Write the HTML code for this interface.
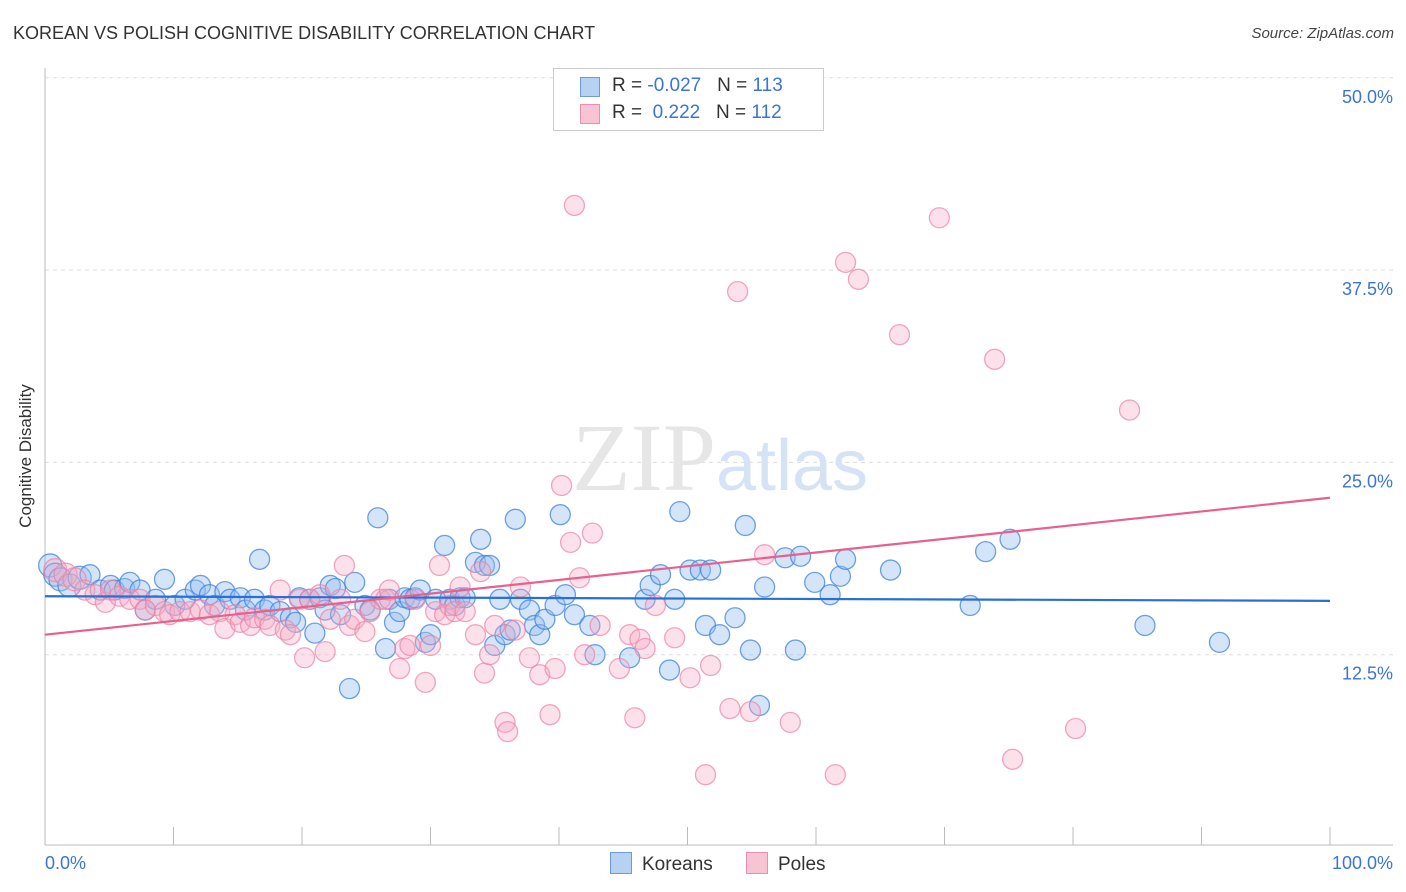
<!DOCTYPE html>
<html><head><meta charset="utf-8"><style>
body{margin:0;background:#fff;font-family:"Liberation Sans",sans-serif}
#w{position:relative;width:1406px;height:892px;overflow:hidden}
</style></head><body><div id="w">
<div style="position:absolute;left:13px;top:23px;font-size:18px;color:#333">KOREAN VS POLISH COGNITIVE DISABILITY CORRELATION CHART</div>
<div style="position:absolute;right:12px;top:25px;font-size:15px;color:#444;font-style:italic">Source: ZipAtlas.com</div>
<svg id="s" width="1406" height="892" style="position:absolute;left:0;top:0"></svg>
</div>
<script>
const yTicks=[12.5,25,37.5,50];
const yTickLabels=["12.5%","25.0%","37.5%","50.0%"];
const korX=[0.4,0.8,1.2,1.9,2.7,3.5,4.3,5.1,5.4,6.2,6.6,7.4,7.8,8.6,9.3,10.1,10.9,11.7,12.1,12.8,13.2,14.0,14.4,15.2,15.6,16.3,16.7,17.1,17.5,18.3,19.1,19.5,19.8,20.6,21.0,21.4,21.8,22.2,22.6,23.0,23.7,24.1,24.9,25.3,25.9,26.5,26.8,27.2,27.6,28.0,28.4,28.8,29.2,29.6,30.0,30.4,31.1,31.5,31.9,32.3,32.7,33.5,33.9,34.2,34.6,35.0,35.4,35.8,36.2,36.6,37.0,37.7,38.1,38.5,38.9,39.7,40.1,40.5,41.2,42.4,42.8,45.5,46.7,47.1,47.9,48.6,49.0,49.4,50.2,51.0,51.4,51.8,52.5,53.7,54.5,54.9,55.6,56.0,57.6,58.4,58.8,59.9,61.1,61.9,62.3,65.8,72.0,73.2,75.1,85.6,91.4];
const korY=[18.3,17.7,17.4,17.0,17.5,17.7,16.7,17.0,16.7,16.8,17.2,16.7,15.4,16.1,17.4,15.7,16.1,16.7,17.0,16.4,15.7,16.6,16.1,16.2,15.4,16.1,18.7,15.4,15.7,15.3,14.9,14.6,16.2,16.1,13.9,16.2,15.4,17.0,16.8,15.1,10.3,17.2,15.7,15.4,21.4,12.9,16.1,14.6,15.3,16.2,16.1,16.2,16.7,13.3,13.8,16.1,19.6,16.1,15.7,16.2,16.2,18.5,20.0,18.3,18.3,13.1,16.1,13.8,14.1,21.3,16.1,15.4,14.4,13.8,14.8,15.7,21.6,16.4,15.1,14.4,12.5,12.3,16.1,17.0,17.7,11.5,16.1,21.8,18.0,18.0,14.4,18.0,13.8,14.9,20.9,12.8,9.2,16.9,18.8,12.8,18.9,17.2,16.4,17.6,18.7,18.0,15.7,19.2,20.0,14.4,13.3];
const polX=[0.8,1.6,2.3,3.1,3.9,4.7,5.1,5.8,6.6,7.4,7.8,8.6,9.3,9.7,10.5,11.3,12.1,12.8,13.6,14.0,14.8,15.2,16.0,16.3,17.1,17.5,18.3,18.7,19.1,19.8,20.2,20.6,21.4,21.8,22.2,23.0,23.3,23.7,24.1,24.9,25.3,26.1,26.5,26.8,27.6,28.0,28.4,28.8,29.6,30.0,30.4,30.7,31.1,31.5,31.9,32.3,32.7,33.5,33.9,34.2,34.6,35.0,35.8,36.0,36.6,37.0,37.7,38.5,39.3,39.7,40.2,40.9,41.2,41.6,42.0,42.6,43.2,44.7,45.5,45.9,46.3,46.7,47.5,49.0,50.2,51.4,51.8,53.3,53.9,54.9,56.0,58.0,61.5,62.3,63.3,66.5,69.6,73.9,75.3,80.2,84.4];
const polY=[18.0,17.7,17.4,16.7,16.4,15.9,16.7,16.3,16.1,16.1,15.4,15.7,15.3,15.1,15.3,15.3,15.4,15.1,15.3,14.2,15.1,14.6,14.4,14.9,14.8,14.4,16.7,14.1,13.8,16.1,12.3,16.1,16.4,12.7,14.8,16.1,18.3,14.4,14.8,14.0,15.3,16.1,16.1,16.7,11.6,12.9,13.1,16.1,10.7,13.1,15.3,18.3,15.1,15.7,15.3,16.9,15.3,13.8,17.9,11.3,12.5,14.4,8.1,7.5,14.1,16.9,12.3,11.2,8.6,11.6,23.5,19.8,41.7,17.5,12.5,20.4,14.4,11.6,13.8,8.4,13.5,12.9,15.7,13.6,11.0,4.7,11.8,9.0,36.1,8.8,19.0,8.1,4.7,38.0,36.9,33.3,40.9,31.7,5.7,7.7,28.4];
const korTrend=[16.3,16.0];
const polTrend=[13.8,22.7];
const NS='http://www.w3.org/2000/svg';
const s=document.getElementById('s');
const X=v=>45+v*12.85, Y=v=>847-v*15.385;
function el(t,a,p){const e=document.createElementNS(NS,t);for(const k in a)e.setAttribute(k,a[k]);(p||s).appendChild(e);return e;}
yTicks.forEach((t,i)=>{
 const g=el('line',{x1:45,x2:1393,y1:Y(t),y2:Y(t),stroke:'#ddd','stroke-dasharray':'4,4'});
 
 
 const l=el('text',{x:1393,y:Y(t)+25,'text-anchor':'end','font-size':18,fill:'#3a74d8','font-family':'Liberation Sans, sans-serif'});
 l.textContent=yTickLabels[i];
 
 
});
el('line',{x1:45,x2:45,y1:68,y2:845,stroke:'#bbb'});
el('line',{x1:45,x2:1393,y1:845,y2:845,stroke:'#bbb'});
for(let i=0;i<=10;i++){el('line',{x1:X(i*10),x2:X(i*10),y1:827,y2:845,stroke:'#bbb'});}
const wm=el('text',{x:720,y:490,'text-anchor':'middle','font-size':96,fill:'#e6e6e6','font-family':'Liberation Serif, serif'});wm.innerHTML='ZIP<tspan fill="#d5e3f5" font-family="Liberation Sans, sans-serif" font-size="72">atlas</tspan>';


korX.forEach((x,i)=>{const c=el('circle',{cx:X(x),cy:Y(korY[i]),r:(x<3?11.5:10),fill:'rgba(150,190,240,0.4)',stroke:'rgba(60,130,220,0.75)','stroke-width':1.3});
 
 });
polX.forEach((x,i)=>{const c=el('circle',{cx:X(x),cy:Y(polY[i]),r:(x<3?11.5:10),fill:'rgba(245,170,195,0.35)',stroke:'rgba(235,130,165,0.7)','stroke-width':1.3});
 
 });
const t1=el('line',{x1:X(0),x2:X(100),y1:Y(korTrend[0]),y2:Y(korTrend[1]),stroke:'#2a6fd6','stroke-width':2.2});


const t2=el('line',{x1:X(0),x2:X(100),y1:Y(polTrend[0]),y2:Y(polTrend[1]),stroke:'#e8608c','stroke-width':2.2});


</script>
<div style="position:absolute;left:-64px;top:446px;width:180px;text-align:center;white-space:nowrap;transform:rotate(-90deg);font-size:17px;color:#333">Cognitive Disability</div>
<div style="position:absolute;left:45px;top:853px;font-size:18px;color:#3a74d8">0.0%</div>
<div style="position:absolute;right:13px;top:853px;font-size:18px;color:#3a74d8">100.0%</div>
<div style="position:absolute;left:553px;top:68px;width:269px;height:61px;border:1px solid #ccc;background:#fff;font-size:19px;color:#333">
 <div style="position:absolute;left:26px;top:8px;width:18px;height:18px;background:#b7d1f3;border:1px solid #6a9be0"></div>
 <div style="position:absolute;left:58px;top:6px">R = <span style="color:#3a74d8">-0.027</span> &nbsp;&nbsp;N = <span style="color:#3a74d8">113</span></div>
 <div style="position:absolute;left:26px;top:35px;width:18px;height:18px;background:#f8c4d4;border:1px solid #eb8fae"></div>
 <div style="position:absolute;left:58px;top:33px">R = &nbsp;<span style="color:#3a74d8">0.222</span> &nbsp;&nbsp;N = <span style="color:#3a74d8">112</span></div>
</div>
<div style="position:absolute;left:610px;top:852px;font-size:19px;color:#333"><span style="display:inline-block;width:20px;height:20px;background:#b7d1f3;border:1px solid #6a9be0;vertical-align:-4px;margin-right:10px"></span>Koreans</div>
<div style="position:absolute;left:746px;top:852px;font-size:19px;color:#333"><span style="display:inline-block;width:20px;height:20px;background:#f8c4d4;border:1px solid #eb8fae;vertical-align:-4px;margin-right:10px"></span>Poles</div>
</body></html>
